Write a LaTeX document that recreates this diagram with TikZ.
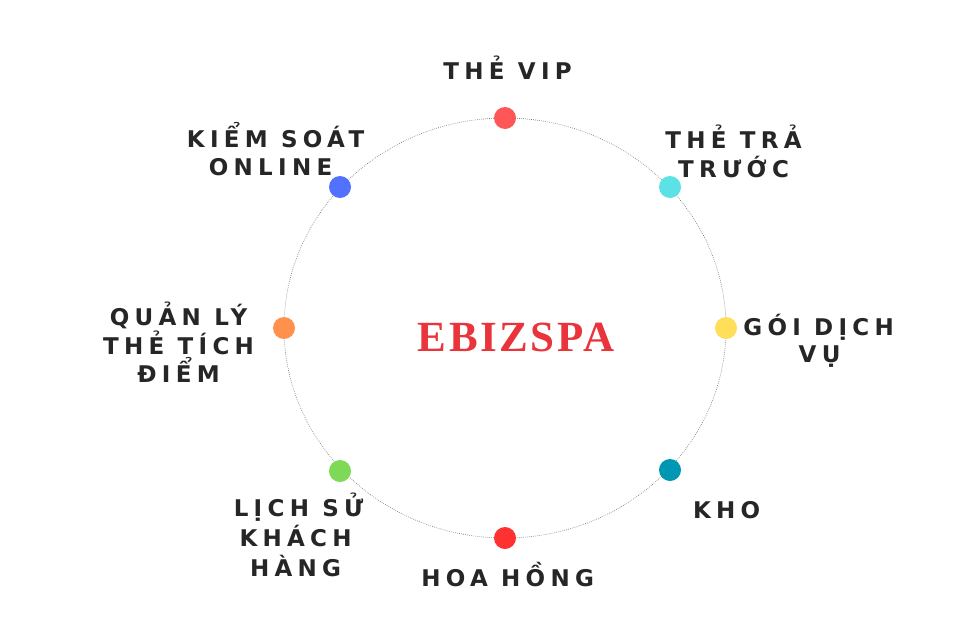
\documentclass[tikz,border=0pt]{standalone}
\usepackage{fontspec}
\setmainfont{DejaVu Sans}
\newfontfamily\lblfont[LetterSpace=23]{DejaVu Sans}
\newfontfamily\titlefont[LetterSpace=6]{Liberation Serif}
\definecolor{txt}{HTML}{262626}
\definecolor{title}{HTML}{E8343A}
\definecolor{cA}{HTML}{FF5757}
\definecolor{cB}{HTML}{5CE1E6}
\definecolor{cC}{HTML}{FFDE59}
\definecolor{cD}{HTML}{0097B2}
\definecolor{cE}{HTML}{FF3131}
\definecolor{cF}{HTML}{7ED957}
\definecolor{cG}{HTML}{FF914D}
\definecolor{cH}{HTML}{5271FF}
\tikzset{
  lbl/.style={anchor=base, inner sep=0pt, xshift=2.6pt, text=txt, font=\lblfont\bfseries\fontsize{23}{28}\selectfont},
  dot/.style={circle, inner sep=0pt, minimum size=22pt, fill=#1},
  ring/.style={draw=black!55, line width=0.6pt, dash pattern=on 0.7pt off 1.3pt}
}
\begin{document}
\begin{tikzpicture}[x=1pt,y=-1pt]
\useasboundingbox[fill=white] (0,0) rectangle (960,640);
\draw[ring] (505,328) ellipse [x radius=221, y radius=210];
\node[dot=cA] (d1) at (505,118) {};
\node[dot=cB] (d2) at (670,187) {};
\node[dot=cC] (d3) at (726,328) {};
\node[dot=cD] (d4) at (670,470) {};
\node[dot=cE] (d5) at (505,538) {};
\node[dot=cF] (d6) at (340,471) {};
\node[dot=cG] (d7) at (284,328) {};
\node[dot=cH] (d8) at (340,187) {};
\node[anchor=base, inner sep=0pt, text=title, font=\titlefont\bfseries\fontsize{43}{48}\selectfont] (t) at (516,351.5) {EBIZSPA};
\node[lbl] (a1) at (505,79) {THẺ VIP};
\node[lbl] (b1) at (731,148) {THẺ TRẢ};
\node[lbl] (b2) at (731,177) {TRƯỚC};
\node[lbl] (c1) at (816,335) {GÓI DỊCH};
\node[lbl] (c2) at (817,362) {VỤ};
\node[lbl] (e1) at (724,518) {KHO};
\node[lbl] (f1) at (505,586) {HOA HỒNG};
\node[lbl] (g1) at (296,516) {LỊCH SỬ};
\node[lbl] (g2) at (293,546) {KHÁCH};
\node[lbl] (g3) at (293,576) {HÀNG};
\node[lbl] (h1) at (176,325) {QUẢN LÝ};
\node[lbl] (h2) at (176,354) {THẺ TÍCH};
\node[lbl] (h3) at (176,382) {ĐIỂM};
\node[lbl] (k1) at (273,147) {KIỂM SOÁT};
\node[lbl] (k2) at (268,175) {ONLINE};
\end{tikzpicture}
\end{document}
